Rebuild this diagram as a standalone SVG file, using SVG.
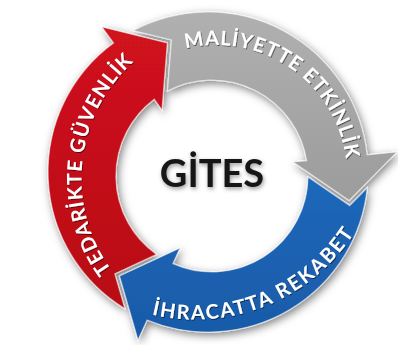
<svg xmlns="http://www.w3.org/2000/svg" width="398" height="345" viewBox="0 0 398 345">
<style>
.lbl{font-family:Lato,"Open Sans","Liberation Sans",sans-serif;font-weight:bold;font-size:20px;fill:#ffffff}
.band{stroke:rgba(255,255,255,0.55);stroke-width:1.2;stroke-linejoin:miter}
.title{font-family:Lato,"Open Sans","Liberation Sans",sans-serif;font-weight:bold;font-size:38px;fill:#141414}
</style>
<defs>
<filter id="sh" x="-20%" y="-20%" width="140%" height="140%">
<feDropShadow dx="2" dy="3" stdDeviation="4.5" flood-color="#000" flood-opacity="0.5"/>
</filter>
<filter id="ts" x="-10%" y="-10%" width="120%" height="120%">
<feDropShadow dx="0.8" dy="1" stdDeviation="0.7" flood-color="#000" flood-opacity="0.55"/>
</filter>
<filter id="gs" x="-20%" y="-30%" width="140%" height="160%">
<feDropShadow dx="1" dy="2" stdDeviation="2" flood-color="#000" flood-opacity="0.4"/>
</filter>
<linearGradient id="gRed" x1="0" y1="0" x2="0" y2="1">
<stop offset="0" stop-color="#d0121c"/><stop offset="1" stop-color="#b80d17"/>
</linearGradient>
<linearGradient id="gGray" x1="0" y1="0" x2="0" y2="1">
<stop offset="0" stop-color="#b0b0b0"/><stop offset="1" stop-color="#9c9c9c"/>
</linearGradient>
<linearGradient id="gBlue" x1="0" y1="0" x2="0" y2="1">
<stop offset="0" stop-color="#1f68ba"/><stop offset="1" stop-color="#185aa8"/>
</linearGradient>
<path id="tpRed" d="M111.5,269.8 A155.5,155.5 0 0 1 135,60.6"/>
<path id="tpGray" d="M185.6,48.6 A131,131 0 0 1 346.2,161.2"/>
<path id="tpBlue" d="M151.7,314.5 A189.5,189.5 0 0 0 355.4,231"/>
</defs>
<rect width="398" height="345" fill="#ffffff"/>
<g id="cycle" filter="url(#sh)">
<g id="node-tedarik">
<path class="band" fill="url(#gRed)" d="M124.9,308.7 A160,160 0 0 1 113.5,42.9 L102,27 L167.3,43 L162,110 L154.2,99.2 A96,96 0 0 0 156.6,254.4 L114.8,273.8 Z"/>
</g>
<g id="node-maliyet">
<path class="band" fill="url(#gGray)" d="M133.1,30.6 A160,160 0 0 1 367.1,154.9 L397,152 L349.2,200.4 L293,162 L306.7,160.7 A96,96 0 0 0 167.5,91 L171.5,40 Z"/>
</g>
<g id="node-ihracat">
<path class="band" fill="url(#gBlue)" d="M367.2,187.9 A160,160 0 0 1 147.1,320 L138,340 L119.5,276 L180,248 L172.9,263.6 A96,96 0 0 0 308,177.1 L349.7,205.6 Z"/>
</g>
</g>
<g id="labels" filter="url(#ts)">
<text class="lbl"><textPath href="#tpRed" textLength="229" lengthAdjust="spacing">TEDARİKTE GÜVENLİK</textPath></text>
<text class="lbl"><textPath href="#tpGray" textLength="219" lengthAdjust="spacing">MALİYETTE ETKİNLİK</textPath></text>
<text class="lbl"><textPath href="#tpBlue" textLength="232" lengthAdjust="spacing">İHRACATTA REKABET</textPath></text>
</g>
<g id="center" filter="url(#gs)">
<text class="title" x="212" y="187" text-anchor="middle">GİTES</text>
</g>
</svg>
